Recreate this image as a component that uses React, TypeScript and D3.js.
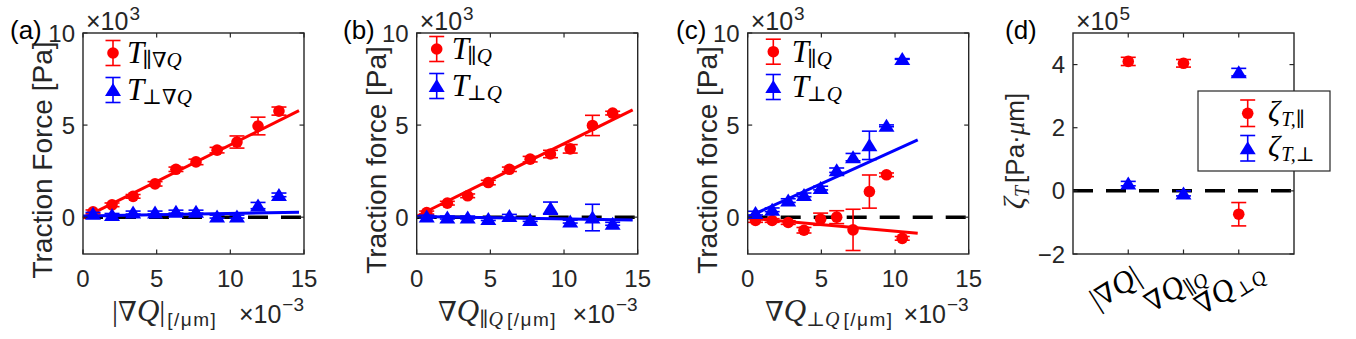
import React, { useEffect, useRef } from 'react';
import * as d3 from 'd3';

// ---- data ----
// panel (a): binned |grad Q|, x in 1e-3 /um, force in 1e3 Pa
const xBinsA = [0.68, 1.97, 3.4, 4.89, 6.31, 7.67, 9.1, 10.45, 11.88, 13.3];
const tParA = [0.29, 0.67, 1.13, 1.81, 2.6, 3.0, 3.64, 4.08, 4.95, 5.76];
const tParAErr = [0.1, 0.1, 0.1, 0.12, 0.12, 0.15, 0.15, 0.33, 0.48, 0.22];
const tPerpA = [0.18, 0.12, 0.25, 0.25, 0.3, 0.3, 0.03, 0.03, 0.63, 1.21];
const tPerpAErr = [0.08, 0.08, 0.08, 0.08, 0.08, 0.08, 0.08, 0.08, 0.17, 0.1];
const fitParA = [[0, -0.05], [14.66, 5.78]];
const fitPerpA = [[0, 0.07], [14.66, 0.27]];

// panel (b): grad Q parallel to Q
const xBinsB = [0.68, 2.08, 3.46, 4.86, 6.29, 7.7, 9.08, 10.42, 11.93, 13.3];
const tParB = [0.25, 0.76, 1.16, 1.88, 2.6, 3.15, 3.43, 3.71, 4.98, 5.65];
const tParBErr = [0.08, 0.1, 0.1, 0.12, 0.12, 0.15, 0.2, 0.23, 0.55, 0.1];
const tPerpB = [0.03, -0.02, -0.02, -0.1, 0.07, -0.15, 0.49, -0.24, -0.02, -0.36];
const tPerpBErr = [0.08, 0.08, 0.08, 0.08, 0.08, 0.08, 0.33, 0.08, 0.72, 0.08];
const fitParB = [[0, 0.05], [14.66, 5.83]];
const fitPerpB = [[0, 0.03], [14.66, -0.15]];

// panel (c): grad Q perpendicular to Q
const xBinsC = [0.53, 1.66, 2.75, 3.82, 4.95, 6.04, 7.15, 8.26, 9.42, 10.49];
const tParC = [-0.18, -0.18, -0.29, -0.71, -0.11, 0.0, -0.69, 1.39, 2.3, -1.15];
const tParCErr = [0.1, 0.1, 0.1, 0.15, 0.33, 0.35, 1.12, 0.9, 0.1, 0.1];
const tPerpC = [0.22, 0.4, 0.9, 1.21, 1.58, 2.55, 3.26, 3.9, 4.96, 8.59];
const tPerpCErr = [0.1, 0.1, 0.1, 0.1, 0.1, 0.12, 0.2, 0.77, 0.05, 0.02];
const fitParC = [[0, -0.05], [11.54, -0.87]];
const fitPerpC = [[0, 0.0], [11.54, 4.2]];

// panel (d): slopes zeta_T, in 1e5 Pa um
const zetaCats = [1, 2, 3];
const zetaPar = [4.1, 4.04, -0.74];
const zetaParErr = [0.13, 0.12, 0.37];
const zetaPerp = [0.23, -0.08, 3.76];
const zetaPerpErr = [0.07, 0.08, 0.12];

const xTicksABC = [0, 5, 10, 15];
const yTicksABC = [0, 5, 10];
const yTicksD = [-2, 0, 2, 4];

const SANS = '"Liberation Sans", Arial, Helvetica, sans-serif';
const SERIF = '"Liberation Serif", "DejaVu Serif", "Times New Roman", serif';
const MATHSYM = '"DejaVu Serif", "Liberation Serif", serif';
const AX = '#262626';
const RED = '#ff0000';
const BLUE = '#0000ff';

const top = 33;
const bottom = 254;
const axW = 221;
const TICK_FS = 24;

// rich text: parts with size, font, italic and vertical shift
function rich(g, x, y, parts, anchor = 'start', color = '#000') {
    const text = g.append('text')
        .attr('x', x)
        .attr('y', y)
        .attr('text-anchor', anchor)
        .attr('fill', color);
    let prev = 0;
    parts.forEach(p => {
        const sh = p.sh || 0;
        const ts = text.append('tspan')
            .attr('dy', sh - prev)
            .attr('dx', p.dx || 0)
            .attr('font-family', p.f || SERIF)
            .attr('font-size', p.s)
            .attr('font-style', p.it ? 'italic' : 'normal')
            .text(p.t);
        if (p.ls) ts.attr('letter-spacing', p.ls);
        prev = sh;
    });
    return text;
}

const triPath = 'M0,-7L8,6L-8,6Z';

function marker(g, cx, cy, kind, color) {
    if (kind === 'o') {
        g.append('circle').attr('cx', cx).attr('cy', cy).attr('r', 5.8).attr('fill', color);
    } else {
        g.append('path').attr('d', triPath).attr('transform', `translate(${cx},${cy})`).attr('fill', color);
    }
}

function errBar(g, cx, y0, y1, cy, kind, color) {
    g.append('line').attr('x1', cx).attr('x2', cx).attr('y1', y0).attr('y2', y1)
        .attr('stroke', color).attr('stroke-width', 1.6);
    [y0, y1].forEach(yy => {
        g.append('line').attr('x1', cx - 7.5).attr('x2', cx + 7.5).attr('y1', yy).attr('y2', yy)
            .attr('stroke', color).attr('stroke-width', 1.6);
    });
    marker(g, cx, cy, kind, color);
}

function series(g, xScale, yScale, xs, ys, es, kind, color) {
    xs.forEach((xv, i) => {
        errBar(g, xScale(xv), yScale(ys[i] + es[i]), yScale(ys[i] - es[i]), yScale(ys[i]), kind, color);
    });
}

function box(g, left, xScale, yScale, xTicks, yTicks) {
    const right = left + axW;
    g.append('rect').attr('x', left).attr('y', top).attr('width', axW).attr('height', bottom - top)
        .attr('fill', 'none').attr('stroke', AX).attr('stroke-width', 1.4);
    const tl = 4.5;
    xTicks.forEach(t => {
        const x = xScale(t);
        g.append('line').attr('x1', x).attr('x2', x).attr('y1', bottom).attr('y2', bottom - tl).attr('stroke', AX).attr('stroke-width', 1.2);
        g.append('line').attr('x1', x).attr('x2', x).attr('y1', top).attr('y2', top + tl).attr('stroke', AX).attr('stroke-width', 1.2);
    });
    yTicks.forEach(t => {
        const y = yScale(t);
        g.append('line').attr('x1', left).attr('x2', left + tl).attr('y1', y).attr('y2', y).attr('stroke', AX).attr('stroke-width', 1.2);
        g.append('line').attr('x1', right).attr('x2', right - tl).attr('y1', y).attr('y2', y).attr('stroke', AX).attr('stroke-width', 1.2);
        g.append('text').attr('x', left - 8).attr('y', y + 8.5).attr('text-anchor', 'end')
            .attr('font-family', SANS).attr('font-size', TICK_FS).attr('fill', AX)
            .text(t < 0 ? '\u2212' + Math.abs(t) : String(t));
    });
}

const panelsABC = [
    {
        left: 83, tag: '(a)', tagX: 10, ylabel: 'Traction Force [Pa]',
        xs: xBinsA, par: tParA, parErr: tParAErr, perp: tPerpA, perpErr: tPerpAErr,
        fitPar: fitParA, fitPerp: fitPerpA,
        leg: { x: 113, y1: 53, y2: 90, tx: 127, sub1: '\u2225\u2207Q', sub2: '\u22A5\u2207Q' },
        xl: 'abs', xlX: 112,
    },
    {
        left: 416.7, tag: '(b)', tagX: 343, ylabel: 'Traction force [Pa]',
        xs: xBinsB, par: tParB, parErr: tParBErr, perp: tPerpB, perpErr: tPerpBErr,
        fitPar: fitParB, fitPerp: fitPerpB,
        leg: { x: 436.7, y1: 49, y2: 86, tx: 451.7, sub1: '\u2225Q', sub2: '\u22A5Q' },
        xl: '\u2225Q', xlX: 438,
    },
    {
        left: 747.7, tag: '(c)', tagX: 676, ylabel: 'Traction force [Pa]',
        xs: xBinsC, par: tParC, parErr: tParCErr, perp: tPerpC, perpErr: tPerpCErr,
        fitPar: fitParC, fitPerp: fitPerpC,
        leg: { x: 773.3, y1: 51.7, y2: 87, tx: 791.7, sub1: '\u2225Q', sub2: '\u22A5Q' },
        xl: '\u22A5Q', xlX: 765,
    },
];

// horizontal nudges for the rotated category labels of panel (d)
const catLabelShift = [-8, -4, -5];

const App = () => {
    const svgRef = useRef(null);

    useEffect(() => {
        const svg = d3.select(svgRef.current);
        svg.selectAll('*').remove();
        const g = svg.append('g');

        panelsABC.forEach(p => {
            const xScale = d3.scaleLinear().domain([0, 15]).range([p.left, p.left + axW]);
            const yScale = d3.scaleLinear().domain([-2, 10]).range([bottom, top]);

            // zero line
            g.append('line').attr('x1', xScale(0)).attr('x2', xScale(15))
                .attr('y1', yScale(0)).attr('y2', yScale(0))
                .attr('stroke', '#000').attr('stroke-width', 3.5).attr('stroke-dasharray', '20,13');

            const line = d3.line().x(d => xScale(d[0])).y(d => yScale(d[1]));
            g.append('path').datum(p.fitPar).attr('d', line).attr('stroke', RED).attr('stroke-width', 3).attr('fill', 'none');
            g.append('path').datum(p.fitPerp).attr('d', line).attr('stroke', BLUE).attr('stroke-width', 3).attr('fill', 'none');

            series(g, xScale, yScale, p.xs, p.par, p.parErr, 'o', RED);
            series(g, xScale, yScale, p.xs, p.perp, p.perpErr, '^', BLUE);

            box(g, p.left, xScale, yScale, xTicksABC, yTicksABC);

            xTicksABC.forEach(t => {
                g.append('text').attr('x', xScale(t)).attr('y', 287).attr('text-anchor', 'middle')
                    .attr('font-family', SANS).attr('font-size', TICK_FS).attr('fill', AX).text(String(t));
            });

            // exponent labels
            rich(g, p.left + 3, 30, [
                { t: '\u00D710', f: SANS, s: 25 },
                { t: '3', f: SANS, s: 19, sh: -10, dx: 1 },
            ], 'start', AX);
            rich(g, p.left + axW, 323, [
                { t: '\u00D710', f: SANS, s: 25 },
                { t: '\u22123', f: SANS, s: 19, sh: -12, dx: 1 },
            ], 'end', AX);

            // x label
            if (p.xl === 'abs') {
                rich(g, p.xlX, 321, [
                    { t: '|', f: SERIF, s: 30 },
                    { t: '\u2207', f: MATHSYM, s: 27 },
                    { t: 'Q', f: SERIF, s: 31, it: true },
                    { t: '|', f: SERIF, s: 30 },
                    { t: '[/\u03BCm]', f: SANS, s: 19, sh: 5, dx: 2, ls: 1.5 },
                ], 'start', AX);
            } else {
                rich(g, p.xlX, 321, [
                    { t: '\u2207', f: MATHSYM, s: 27 },
                    { t: 'Q', f: SERIF, s: 31, it: true },
                    { t: p.xl, f: SERIF, s: 20, it: true, sh: 5 },
                    { t: '[/\u03BCm]', f: SANS, s: 19, sh: 5, dx: 4, ls: 1.5 },
                ], 'start', AX);
            }

            // y label
            g.append('text')
                .attr('transform', `translate(${p.left - 31},160) rotate(-90)`)
                .attr('text-anchor', 'middle')
                .attr('font-family', SANS).attr('font-size', 28).attr('fill', AX)
                .text(p.ylabel);

            // panel tag
            g.append('text').attr('x', p.tagX).attr('y', 39).attr('font-family', SANS)
                .attr('font-size', 26).attr('fill', '#000').text(p.tag);

            // legend
            const L = p.leg;
            errBar(g, L.x, L.y1 - 12.5, L.y1 + 12.5, L.y1, 'o', RED);
            errBar(g, L.x, L.y2 - 12.5, L.y2 + 12.5, L.y2, '^', BLUE);
            rich(g, L.tx, L.y1 + 10, [
                { t: 'T', f: SERIF, s: 31, it: true },
                { t: L.sub1, f: SERIF, s: 21, it: true, sh: 4, dx: -2 },
            ]);
            rich(g, L.tx, L.y2 + 10, [
                { t: 'T', f: SERIF, s: 31, it: true },
                { t: L.sub2, f: SERIF, s: 21, it: true, sh: 4, dx: -2 },
            ]);
        });

        // ---- panel (d)
        const dLeft = 1073;
        const xD = d3.scaleLinear().domain([0, 4]).range([dLeft, dLeft + axW]);
        const yD = d3.scaleLinear().domain([-2, 5]).range([bottom, top]);

        g.append('line').attr('x1', xD(0)).attr('x2', xD(4)).attr('y1', yD(0)).attr('y2', yD(0))
            .attr('stroke', '#000').attr('stroke-width', 3.5).attr('stroke-dasharray', '20,13');

        series(g, xD, yD, zetaCats, zetaPar, zetaParErr, 'o', RED);
        series(g, xD, yD, zetaCats, zetaPerp, zetaPerpErr, '^', BLUE);

        box(g, dLeft, xD, yD, zetaCats, yTicksD);

        rich(g, dLeft + 3, 30, [
            { t: '\u00D710', f: SANS, s: 25 },
            { t: '5', f: SANS, s: 19, sh: -10, dx: 1 },
        ], 'start', AX);

        const catLabels = [
            [{ t: '|', f: SERIF, s: 30 }, { t: '\u2207', f: MATHSYM, s: 27 }, { t: 'Q', f: SERIF, s: 31, it: true }, { t: '|', f: SERIF, s: 30 }],
            [{ t: '\u2207', f: MATHSYM, s: 27 }, { t: 'Q', f: SERIF, s: 31, it: true }, { t: '\u2225Q', f: SERIF, s: 20, it: true, sh: 5 }],
            [{ t: '\u2207', f: MATHSYM, s: 27 }, { t: 'Q', f: SERIF, s: 31, it: true }, { t: '\u22A5Q', f: SERIF, s: 20, it: true, sh: 5 }],
        ];
        zetaCats.forEach((c, i) => {
            const tg = g.append('g').attr('transform', `translate(${xD(c) + catLabelShift[i]},296) rotate(-32)`);
            rich(tg, 0, 0, catLabels[i], 'middle', '#000');
        });

        // y label (d)
        const yl = g.append('g').attr('transform', `translate(1024,151) rotate(-90)`);
        rich(yl, 0, 0, [
            { t: '\u03B6', f: SERIF, s: 30, it: true },
            { t: 'T', f: SERIF, s: 20, it: true, sh: 5 },
            { t: '[Pa\u00B7', f: SANS, s: 26, dx: 3 },
            { t: '\u03BC', f: SERIF, s: 27, it: true },
            { t: 'm]', f: SANS, s: 26 },
        ], 'middle', AX);

        g.append('text').attr('x', 1005).attr('y', 39).attr('font-family', SANS)
            .attr('font-size', 26).attr('fill', '#000').text('(d)');

        // legend (d)
        g.append('rect').attr('x', 1198).attr('y', 91).attr('width', 132).attr('height', 80)
            .attr('fill', '#fff').attr('stroke', AX).attr('stroke-width', 1.2);
        errBar(g, 1247.7, 100, 126.5, 113.3, 'o', RED);
        errBar(g, 1247.7, 135.5, 161, 148.3, '^', BLUE);
        rich(g, 1268, 121, [
            { t: '\u03B6', f: SERIF, s: 30, it: true },
            { t: 'T,\u2225', f: SERIF, s: 20, it: true, sh: 5, dx: 1 },
        ]);
        rich(g, 1268, 156, [
            { t: '\u03B6', f: SERIF, s: 30, it: true },
            { t: 'T,\u22A5', f: SERIF, s: 20, it: true, sh: 5, dx: 1 },
        ]);
    }, []);

    return (
        <svg ref={svgRef} width={1356} height={339}
            style={{ position: 'absolute', left: 0, top: 0, background: '#fff' }} />
    );
};

export default App;
